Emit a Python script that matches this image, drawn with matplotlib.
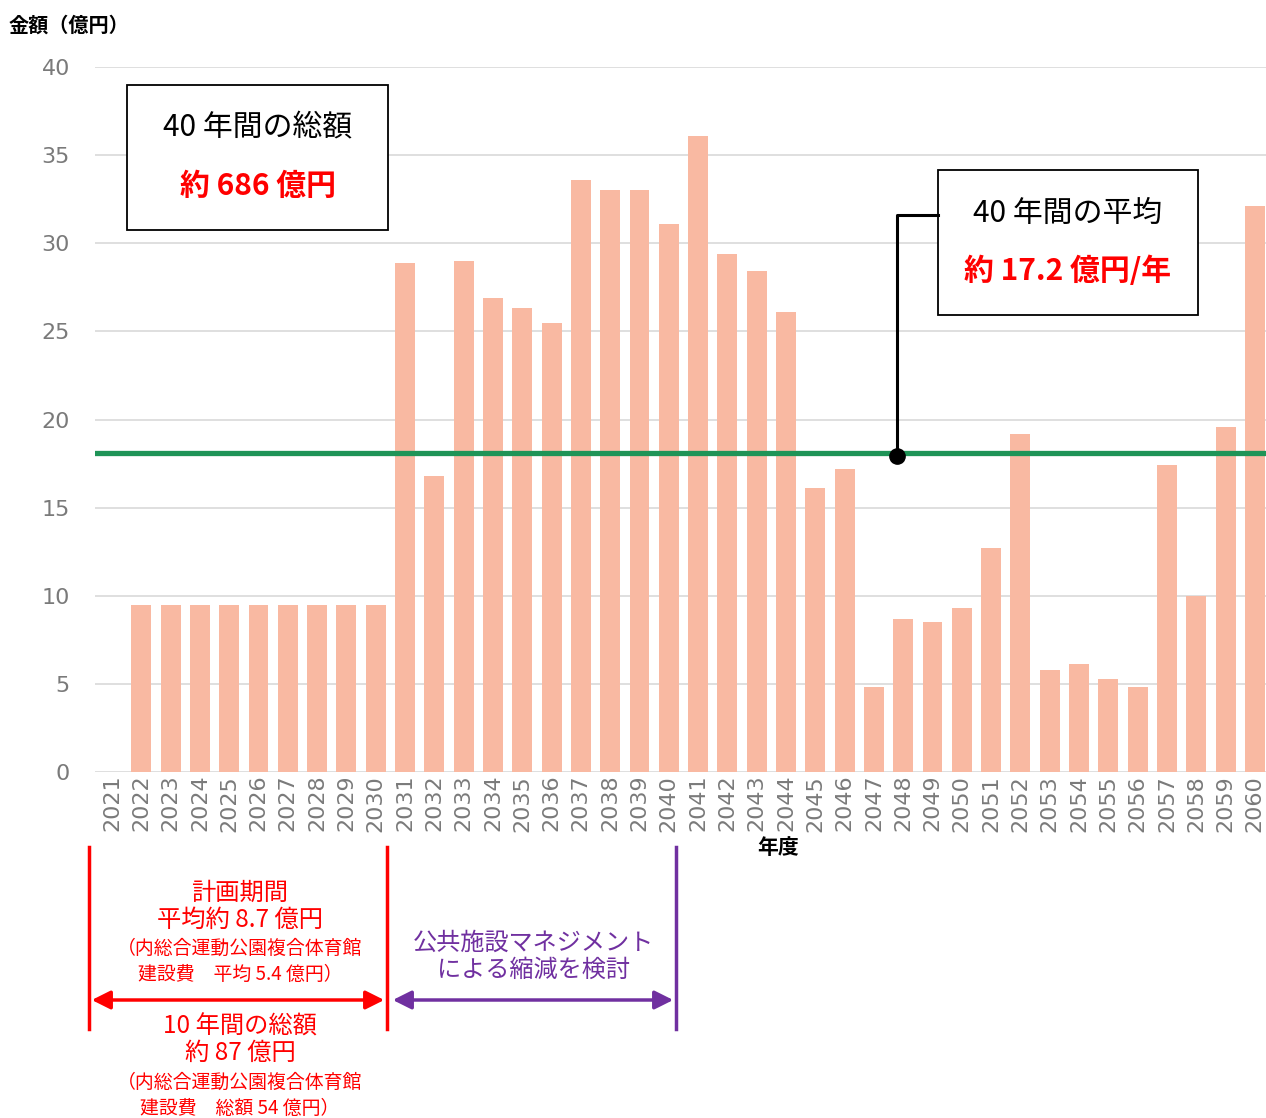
import numpy as np
import matplotlib
matplotlib.use('Agg')
import matplotlib.pyplot as plt
from matplotlib.patches import Rectangle, FancyArrowPatch
from matplotlib.lines import Line2D

plt.rcParams['font.family'] = ['Noto Sans CJK JP', 'DejaVu Sans']

# data (億円)
years = [str(y) for y in range(2021, 2061)]
costs = [0.0, 9.5, 9.5, 9.5, 9.5, 9.5, 9.5, 9.5, 9.5, 9.5,
         28.9, 16.8, 29.0, 26.9, 26.3, 25.5, 33.6, 33.0, 33.0, 31.1,
         36.1, 29.4, 28.4, 26.1, 16.1, 17.2, 4.8, 8.7, 8.5, 9.3,
         12.7, 19.2, 5.8, 6.1, 5.3, 4.8, 17.4, 10.0, 19.6, 32.1]
avg_line = 18.1
yticks = [0, 5, 10, 15, 20, 25, 30, 35, 40]

W, H = 1266, 1118
fig = plt.figure(figsize=(W / 100, H / 100), dpi=100)

def fx(px):
    return px / W

def fy(py):
    return 1 - py / H

ax = fig.add_axes([fx(95), fy(772), 1 - fx(95), fy(67) - fy(772)])
x = np.arange(len(years))
ax.bar(x, costs, width=0.68, color='#f9b9a2', zorder=2)
ax.axhline(avg_line, color='#1f9457', lw=3.8, zorder=3)

ax.set_xlim(-0.58, len(years) - 1 + 0.38)
ax.set_ylim(0, 40)
ax.set_yticks(yticks)
ax.set_yticklabels([str(v) for v in yticks], family='DejaVu Sans', fontsize=16, color='#7a7a7a')
ax.set_xticks(x)
ax.set_xticklabels(years, rotation=90, family='DejaVu Sans', fontsize=16, color='#7a7a7a')
ax.tick_params(axis='y', length=0, pad=18)
ax.tick_params(axis='x', length=0, pad=2)
ax.grid(axis='y', color='#d9d9d9', lw=1.2, zorder=0)
for s in ax.spines.values():
    s.set_visible(False)

fig.text(fx(9), fy(25), '金額（億円）', fontsize=14.5, fontweight='bold', va='center', ha='left')
fig.text(fx(778), fy(847), '年度', fontsize=15, fontweight='bold', va='center', ha='center')

# boxes
def box(x0, y0, x1, y1, line1, line2):
    fig.patches.append(Rectangle((fx(x0), fy(y1)), fx(x1) - fx(x0), fy(y0) - fy(y1),
                                 transform=fig.transFigure, fill=True, fc='white',
                                 ec='black', lw=1.3, zorder=5))
    cx = fx((x0 + x1) / 2)
    fig.text(cx, fy(y0 + 43), line1, fontsize=21.5, ha='center', va='center', zorder=6)
    fig.text(cx, fy(y0 + 101), line2, fontsize=21.5, ha='center', va='center',
             color='#ff0000', fontweight='bold', zorder=6)

box(127, 85, 388, 230, '40 年間の総額', '約 686 億円')
box(938, 170, 1198, 315, '40 年間の平均', '約 17.2 億円/年')

# connector from average box to the line
fig.lines.append(Line2D([fx(938), fx(897), fx(897)], [fy(215), fy(215), fy(456)],
                        transform=fig.transFigure, color='black', lw=2.2, zorder=6))
fig.lines.append(Line2D([fx(897)], [fy(456)], transform=fig.transFigure, marker='o',
                        ms=11, color='black', zorder=7))

# bottom period annotations
red = '#ff0000'
purple = '#7030a0'
for px, c in [(89, red), (387, red), (676, purple)]:
    fig.lines.append(Line2D([fx(px), fx(px)], [fy(847), fy(1029)],
                            transform=fig.transFigure, color=c, lw=2.5))

for x0, x1, c in [(89, 387, red), (390, 676, purple)]:
    fig.patches.append(FancyArrowPatch((fx(x0), fy(1000)), (fx(x1), fy(1000)),
                                       transform=fig.transFigure, arrowstyle='<|-|>',
                                       mutation_scale=28, color=c, lw=2.5))

cx = fx(240)
fig.text(cx, fy(893), '計画期間', fontsize=17.5, color=red, ha='center', va='center')
fig.text(cx, fy(920), '平均約 8.7 億円', fontsize=17.5, color=red, ha='center', va='center')
fig.text(cx, fy(948), '（内総合運動公園複合体育館', fontsize=13.6, color=red, ha='center', va='center')
fig.text(cx, fy(974), '建設費　平均 5.4 億円）', fontsize=13.6, color=red, ha='center', va='center')
fig.text(cx, fy(1027), '10 年間の総額', fontsize=17.5, color=red, ha='center', va='center')
fig.text(cx, fy(1053), '約 87 億円', fontsize=17.5, color=red, ha='center', va='center')
fig.text(cx, fy(1082), '（内総合運動公園複合体育館', fontsize=13.6, color=red, ha='center', va='center')
fig.text(cx, fy(1108), '建設費　総額 54 億円）', fontsize=13.6, color=red, ha='center', va='center')

fig.text(fx(533), fy(943), '公共施設マネジメント', fontsize=17.4, color=purple, ha='center', va='center')
fig.text(fx(533), fy(970), 'による縮減を検討', fontsize=17.4, color=purple, ha='center', va='center')

fig.savefig('out.png', dpi=100)
